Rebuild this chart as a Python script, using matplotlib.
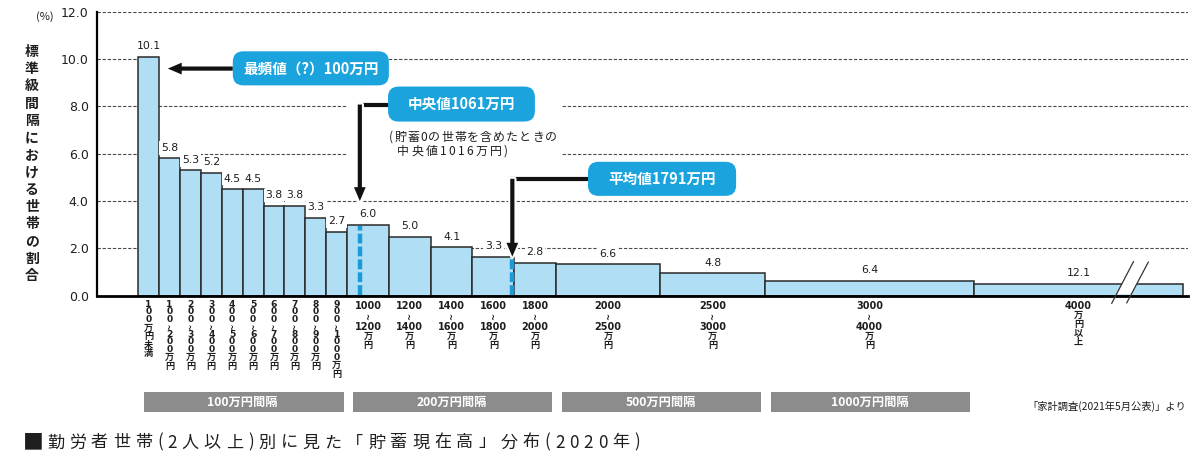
import matplotlib
matplotlib.use("Agg")
import matplotlib.pyplot as plt
from matplotlib.patches import Rectangle, FancyBboxPatch, FancyArrowPatch, Polygon
from matplotlib import transforms
import matplotlib.patheffects as pe

plt.rcParams['font.family'] = ['Noto Sans CJK JP', 'DejaVu Sans']

# ---------------- data ----------------
bin_lower = [0, 100, 200, 300, 400, 500, 600, 700, 800, 900,
             1000, 1200, 1400, 1600, 1800, 2000, 2500, 3000, 4000]
bin_upper = [100, 200, 300, 400, 500, 600, 700, 800, 900, 1000,
             1200, 1400, 1600, 1800, 2000, 2500, 3000, 4000, None]
pct = [10.1, 5.8, 5.3, 5.2, 4.5, 4.5, 3.8, 3.8, 3.3, 2.7,
       6.0, 5.0, 4.1, 3.3, 2.8, 6.6, 4.8, 6.4, 12.1]
open_bin_display_width = 1000      # "4000万円以上" drawn with a broken axis
open_bin_display_height = 0.5

# "~" is drawn rotated, as in vertical Japanese typesetting
tick_labels = [
    "1\n0\n0\n万\n円\n未\n満",
    "1\n0\n0\n~\n2\n0\n0\n万\n円",
    "2\n0\n0\n~\n3\n0\n0\n万\n円",
    "3\n0\n0\n~\n4\n0\n0\n万\n円",
    "4\n0\n0\n~\n5\n0\n0\n万\n円",
    "5\n0\n0\n~\n6\n0\n0\n万\n円",
    "6\n0\n0\n~\n7\n0\n0\n万\n円",
    "7\n0\n0\n~\n8\n0\n0\n万\n円",
    "8\n0\n0\n~\n9\n0\n0\n万\n円",
    "9\n0\n0\n~\n1\n0\n0\n0\n万\n円",
    "1000\n~\n1200\n万\n円",
    "1200\n~\n1400\n万\n円",
    "1400\n~\n1600\n万\n円",
    "1600\n~\n1800\n万\n円",
    "1800\n~\n2000\n万\n円",
    "2000\n~\n2500\n万\n円",
    "2500\n~\n3000\n万\n円",
    "3000\n~\n4000\n万\n円",
    "4000\n万\n円\n以\n上",
]

group_names = ["100万円間隔", "200万円間隔", "500万円間隔", "1000万円間隔"]
group_ranges = [(0, 1000), (1000, 2000), (2000, 3000), (3000, 4000)]

mode_value = 100
median_value = 1061
mean_value = 1791
mode_text = "最頻値（?）100万円"
median_text = "中央値1061万円"
mean_text = "平均値1791万円"
note_lines = ["(貯蓄0の世帯を含めたときの", "中央値1016万円)"]

y_label = "標準級間隔における世帯の割合"
title_mark = "■"
title = "勤労者世帯(2人以上)別に見た「貯蓄現在高」分布(2020年)"
source = "「家計調査(2021年5月公表)」より"

# ---------------- style ----------------
BAR = "#b0def5"
EDGE = "#2a2a2a"
CALLOUT = "#1ba3de"
DASHBLUE = "#1a9ad6"
GREY = "#8c8c8c"
TXT = "#1e1e1e"

W, H = 1200, 453
fig = plt.figure(figsize=(W / 100, H / 100), dpi=100)


def fx(px):
    return px / W


def fy(py):
    return 1 - py / H


ax = fig.add_axes([fx(97), fy(295.7), 1091 / W, (295.7 - 11.8) / H])
ax.set_xlim(-197, 5025)
ax.set_ylim(0, 12)

# bars (height = share per 100万円)
widths, heights = [], []
for lo, hi, p in zip(bin_lower, bin_upper, pct):
    if hi is None:
        widths.append(open_bin_display_width)
        heights.append(open_bin_display_height)
    else:
        w = hi - lo
        widths.append(w)
        heights.append(p / (w / 100))
ax.bar(bin_lower, heights, width=widths, align='edge', color=BAR,
       edgecolor=EDGE, linewidth=1.1, zorder=2)
centers = [lo + w / 2 for lo, w in zip(bin_lower, widths)]

# grid
for yv in range(2, 13, 2):
    ax.axhline(yv, color="#4a4a4a", lw=0.8, ls=(0, (3, 1.6)), zorder=0.5)
# white gaps in gridlines behind annotations
ax.add_patch(Rectangle((100, 9.3), 1100, 1.3, fc='white', ec='none', zorder=1))
ax.add_patch(Rectangle((1000, 5.5), 1030, 3.1, fc='white', ec='none', zorder=1))

# value labels
for c, h, p in zip(centers, heights, pct):
    ax.annotate(f"{p:.1f}", (c, h), xytext=(0, 7.5), textcoords='offset points',
                ha='center', va='center', fontsize=7.8, family='DejaVu Sans',
                color=TXT, zorder=3,
                bbox=dict(fc='white', ec='none', pad=1.2))

# dashed markers for median / mean inside bars
def bar_height_at(v):
    for lo, w, h in zip(bin_lower, widths, heights):
        if lo <= v < lo + w:
            return h
    return 0

for v in (median_value, mean_value):
    ax.plot([v, v], [0.05, bar_height_at(v) - 0.05], color=DASHBLUE, lw=3.2,
            ls=(0, (2.2, 0.7)), zorder=2.5, solid_capstyle='butt')

# spines / ticks
for s in ('top', 'right'):
    ax.spines[s].set_visible(False)
ax.spines['left'].set_linewidth(1.6)
ax.spines['bottom'].set_linewidth(2.0)
ax.set_xticks([])
ax.set_yticks(range(0, 13, 2))
ax.set_yticklabels([f"{v:.1f}" for v in range(0, 13, 2)], family='DejaVu Sans',
                   fontsize=9, color=TXT)
ax.tick_params(axis='y', length=0, pad=6)

# broken-axis marks on open bin
b1 = [(4660, -0.32), (4764, 1.44)]
b2 = [(4732, -0.30), (4835, 1.42)]


def xat(line, yv):
    (x0, y0), (x1, y1) = line
    return x0 + (x1 - x0) * (yv - y0) / (y1 - y0)

ya, yb = 0.06, 1.0
ax.add_patch(Polygon([(xat(b1, ya), ya), (xat(b1, yb), yb), (xat(b2, yb), yb),
                      (xat(b2, ya), ya)], closed=True, fc='white', ec='none', zorder=3))
for ln in (b1, b2):
    ax.plot([ln[0][0], ln[1][0]], [ln[0][1], ln[1][1]], color='#333', lw=0.9,
            zorder=3.5, clip_on=False)

# callouts
asp = (12 / (295.7 - 11.8)) / ((5025 + 197) / 1091)


def callout(x0, x1, y0, y1, text, fs=10.5):
    ax.add_patch(FancyBboxPatch((x0, y0), x1 - x0, y1 - y0,
                                boxstyle="round,pad=0,rounding_size=50",
                                mutation_aspect=asp, fc=CALLOUT, ec='none',
                                zorder=5, clip_on=False))
    ax.text((x0 + x1) / 2, (y0 + y1) / 2, text, ha='center', va='center',
            color='white', fontsize=fs, fontweight='bold', zorder=6)

callout(453, 1200, 8.89, 10.33, mode_text)
callout(1196, 1899, 7.36, 8.84, median_text)
callout(2153, 2862, 4.22, 5.66, mean_text)

arrow_style = "simple,head_length=10,head_width=8.5,tail_width=3"
halo = [pe.Stroke(linewidth=3, foreground='white'), pe.Normal()]

# mode arrow
ax.add_patch(FancyArrowPatch((453, 9.6), (mode_value + 42, 9.6), arrowstyle=arrow_style,
                             mutation_scale=1, color='#111', lw=0, shrinkA=0, shrinkB=0,
                             zorder=4))
# median arrow (elbow)
ax.plot([1196, median_value], [8.08, 8.08], color='#111', lw=3, zorder=4,
        solid_capstyle='projecting')
ax.add_patch(FancyArrowPatch((median_value, 8.08), (median_value, 4.0), arrowstyle=arrow_style,
                             mutation_scale=1, color='#111', lw=0, shrinkA=0, shrinkB=0,
                             zorder=4, path_effects=halo))
# mean arrow (elbow)
ax.plot([2153, mean_value], [4.94, 4.94], color='#111', lw=3, zorder=4,
        solid_capstyle='projecting')
ax.add_patch(FancyArrowPatch((mean_value, 4.94), (mean_value, bar_height_at(mean_value)),
                             arrowstyle=arrow_style, mutation_scale=1, color='#111', lw=0,
                             shrinkA=0, shrinkB=0, zorder=4, path_effects=halo))

renderer = fig.canvas.get_renderer()


def tracked(s, x0, x1, baseline, **kw):
    texts = [fig.text(0, fy(baseline), ch, ha='left', va='baseline', **kw) for ch in s]
    ws = [t.get_window_extent(renderer).width for t in texts]
    gap = (x1 - x0 - sum(ws)) / max(len(s) - 1, 1)
    x = x0
    for t, w in zip(texts, ws):
        t.set_x(fx(x))
        x += w + gap

# note below the median callout
tracked(note_lines[0], 389, 557, 141, fontsize=8.6, color=TXT)
tracked(note_lines[1], 397, 508, 155, fontsize=8.6, color=TXT)

# x tick labels (stacked vertically)
xt = transforms.blended_transform_factory(ax.transData, fig.transFigure)
for c, lab in zip(centers, tick_labels):
    toks = lab.split("\n")
    narrow = all(len(t) == 1 for t in toks)
    top = 300.3
    for tok in toks:
        rot = 0
        if tok == "~":
            fam, fs, hgt, rot = 'DejaVu Sans', (5.5 if narrow else 6.0), (6.5 if narrow else 10), 90
        elif tok.isdigit():
            fam, fs, hgt = 'DejaVu Sans', (6.6 if narrow else 7.0), (7.8 if narrow else 11)
        else:
            fam, fs, hgt = 'Noto Sans CJK JP', 6.6, (8.6 if narrow else 9)
        ax.text(c, fy(top + hgt / 2), tok, transform=xt, ha='center', va='center',
                fontsize=fs, fontweight='bold', color=TXT, family=fam, rotation=rot)
        top += hgt

# group boxes
for name, (g0, g1) in zip(group_names, group_ranges):
    ax.add_patch(Rectangle((g0 + 28, fy(412)), (g1 - g0) - 45, (412 - 392) / H,
                           transform=xt, fc=GREY, ec='none', clip_on=False))
    ax.text((g0 + g1) / 2, fy(402), name, transform=xt, ha='center', va='center',
            color='white', fontsize=8.8, fontweight='bold')

# y axis label (vertical stacked characters)
for k, ch in enumerate(y_label):
    fig.text(fx(32), fy(52 + k * 17.23), ch, ha='center', va='center',
             fontsize=10, fontweight='bold', color=TXT)
fig.text(fx(45), fy(17), "(%)", ha='center', va='center', fontsize=8, color=TXT)

# source & title
fig.text(fx(1186), fy(406), source, ha='right', va='center', fontsize=7.4, color=TXT)
fig.text(fx(23), fy(448.5), title_mark, ha='left', va='baseline', fontsize=15, color=TXT)
tracked(title, 47, 640, 447.5, fontsize=12.3, color=TXT)

fig.savefig("out.png", dpi=100)
